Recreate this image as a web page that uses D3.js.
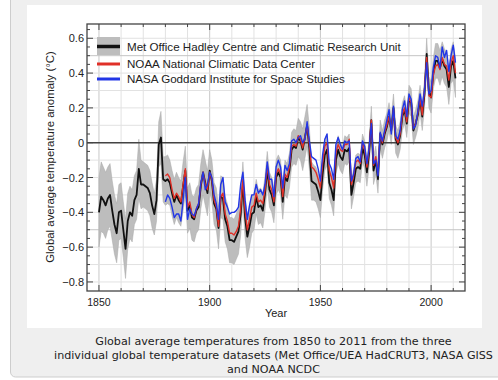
<!DOCTYPE html>
<meta charset="utf-8">
<style>
  body { margin: 0; background: #fff; }
  svg { display: block; }
</style>
<svg width="498" height="380"></svg>
<script src="https://d3js.org/d3.v7.min.js"></script>

<script>
  // HadCRUT3, 1850-2011 (degC, 1961-90 base)
  var hadcrutStart = 1850;
  var hadcrut = [
    -0.40, -0.31, -0.33, -0.36, -0.32, -0.30, -0.39, -0.47, -0.52, -0.40,
    -0.39, -0.50, -0.61, -0.45, -0.40, -0.42, -0.33, -0.30, -0.15, -0.24,
    -0.24, -0.25, -0.26, -0.29, -0.36, -0.41, -0.33, -0.01, 0.03, -0.21,
    -0.22, -0.21, -0.23, -0.29, -0.34, -0.30, -0.33, -0.35, -0.25, -0.16,
    -0.39, -0.36, -0.43, -0.44, -0.39, -0.37, -0.25, -0.17, -0.23, -0.29,
    -0.16, -0.22, -0.35, -0.38, -0.49, -0.31, -0.32, -0.44, -0.48, -0.56,
    -0.56, -0.57, -0.54, -0.51, -0.41, -0.23, -0.43, -0.54, -0.48, -0.41,
    -0.40, -0.31, -0.37, -0.36, -0.39, -0.29, -0.15, -0.27, -0.30, -0.36,
    -0.20, -0.17, -0.20, -0.34, -0.20, -0.22, -0.16, -0.04, -0.02, -0.03,
    0.03, 0.01, -0.04, 0.03, 0.10, -0.03, -0.22, -0.23, -0.24, -0.28,
    -0.33, -0.18, -0.07, -0.04, -0.23, -0.27, -0.33, -0.10, -0.04, -0.08,
    -0.10, -0.04, -0.05, -0.03, -0.30, -0.23, -0.15, -0.14, -0.15, -0.03,
    -0.07, -0.17, -0.06, 0.13, -0.16, -0.10, -0.21, 0.05, -0.01, 0.05,
    0.09, 0.15, 0.07, 0.20, 0.02, -0.01, 0.04, 0.15, 0.19, 0.11,
    0.25, 0.23, 0.07, 0.11, 0.16, 0.25, 0.15, 0.28, 0.51, 0.29,
    0.26, 0.40, 0.47, 0.47, 0.43, 0.48, 0.44, 0.42, 0.32, 0.44,
    0.47, 0.37
  ];
  // half width of the HadCRUT3 uncertainty band
  var hadcrutErr = [
    0.20, 0.20, 0.19, 0.19, 0.18, 0.18, 0.17, 0.17, 0.17, 0.16,
    0.16, 0.16, 0.17, 0.16, 0.15, 0.15, 0.14, 0.14, 0.17, 0.14,
    0.13, 0.13, 0.13, 0.13, 0.13, 0.12, 0.12, 0.13, 0.15, 0.13,
    0.14, 0.14, 0.13, 0.13, 0.13, 0.13, 0.13, 0.13, 0.14, 0.14,
    0.13, 0.13, 0.13, 0.13, 0.13, 0.13, 0.13, 0.13, 0.13, 0.13,
    0.12, 0.12, 0.12, 0.12, 0.12, 0.12, 0.12, 0.13, 0.13, 0.13,
    0.13, 0.13, 0.13, 0.13, 0.12, 0.12, 0.12, 0.12, 0.12, 0.11,
    0.10, 0.10, 0.10, 0.10, 0.10, 0.10, 0.10, 0.10, 0.10, 0.10,
    0.10, 0.10, 0.10, 0.10, 0.10, 0.10, 0.10, 0.10, 0.10, 0.10,
    0.11, 0.11, 0.12, 0.12, 0.12, 0.12, 0.11, 0.10, 0.10, 0.10,
    0.10, 0.09, 0.09, 0.09, 0.09, 0.09, 0.09, 0.08, 0.08, 0.08,
    0.08, 0.08, 0.08, 0.08, 0.08, 0.08, 0.08, 0.08, 0.08, 0.08,
    0.08, 0.08, 0.08, 0.08, 0.08, 0.08, 0.08, 0.08, 0.08, 0.08,
    0.08, 0.08, 0.08, 0.08, 0.08, 0.08, 0.08, 0.08, 0.08, 0.08,
    0.08, 0.08, 0.08, 0.08, 0.08, 0.08, 0.08, 0.08, 0.09, 0.09,
    0.09, 0.09, 0.10, 0.10, 0.10, 0.10, 0.10, 0.10, 0.10, 0.10,
    0.11, 0.11
  ];

  // NOAA NCDC and NASA GISS, 1880-2011
  var otherStart = 1880;
  var noaa = [
    -0.19, -0.18, -0.20, -0.27, -0.32, -0.29, -0.31, -0.34, -0.24, -0.15,
    -0.37, -0.34, -0.41, -0.43, -0.38, -0.35, -0.24, -0.17, -0.24, -0.27,
    -0.17, -0.21, -0.33, -0.37, -0.48, -0.31, -0.29, -0.41, -0.45, -0.52,
    -0.52, -0.53, -0.51, -0.48, -0.38, -0.21, -0.39, -0.50, -0.44, -0.37,
    -0.36, -0.29, -0.34, -0.33, -0.35, -0.27, -0.13, -0.24, -0.27, -0.34,
    -0.18, -0.15, -0.18, -0.31, -0.18, -0.20, -0.14, -0.02, -0.01, -0.02,
    0.04, 0.02, -0.03, 0.03, 0.10, -0.01, -0.14, -0.15, -0.17, -0.21,
    -0.26, -0.12, -0.02, 0.00, -0.16, -0.20, -0.26, -0.06, -0.01, -0.04,
    -0.05, -0.01, -0.01, 0.02, -0.24, -0.19, -0.11, -0.10, -0.12, 0.00,
    -0.04, -0.14, -0.04, 0.13, -0.13, -0.08, -0.18, 0.05, 0.00, 0.06,
    0.10, 0.15, 0.07, 0.19, 0.03, 0.00, 0.05, 0.16, 0.20, 0.12,
    0.26, 0.23, 0.08, 0.11, 0.17, 0.26, 0.16, 0.30, 0.49, 0.27,
    0.26, 0.39, 0.44, 0.45, 0.42, 0.49, 0.45, 0.44, 0.36, 0.46,
    0.50, 0.40
  ];
  var nasa = [
    -0.34, -0.30, -0.32, -0.37, -0.43, -0.41, -0.41, -0.45, -0.33, -0.20,
    -0.44, -0.38, -0.41, -0.42, -0.38, -0.35, -0.23, -0.17, -0.27, -0.24,
    -0.17, -0.20, -0.30, -0.35, -0.44, -0.24, -0.20, -0.34, -0.37, -0.41,
    -0.40, -0.40, -0.39, -0.37, -0.24, -0.17, -0.33, -0.44, -0.36, -0.30,
    -0.30, -0.24, -0.29, -0.27, -0.30, -0.24, -0.11, -0.21, -0.21, -0.31,
    -0.14, -0.10, -0.14, -0.26, -0.13, -0.16, -0.12, 0.01, 0.02, 0.00,
    0.03, 0.04, 0.00, 0.02, 0.12, 0.01, -0.08, -0.09, -0.10, -0.15,
    -0.22, -0.07, 0.02, 0.05, -0.12, -0.15, -0.21, -0.01, 0.03, -0.01,
    -0.04, 0.01, 0.00, 0.01, -0.22, -0.18, -0.09, -0.08, -0.11, 0.01,
    -0.02, -0.12, -0.03, 0.11, -0.12, -0.10, -0.19, 0.06, 0.01, 0.07,
    0.13, 0.19, 0.05, 0.21, 0.04, 0.02, 0.07, 0.19, 0.24, 0.15,
    0.28, 0.25, 0.08, 0.10, 0.18, 0.28, 0.21, 0.30, 0.46, 0.28,
    0.30, 0.43, 0.50, 0.49, 0.43, 0.55, 0.49, 0.53, 0.41, 0.50,
    0.56, 0.46
  ];

  var yTicks = [0.6, 0.4, 0.2, 0, -0.2, -0.4, -0.6, -0.8];
  var xTicks = [1850, 1900, 1950, 2000];
  var legendNames = [
    "Met Office Hadley Centre and Climatic Research Unit",
    "NOAA National Climatic Data Center",
    "NASA Goddard Institute for Space Studies"
  ];
  var captionLines = [
    "Global average temperatures from 1850 to 2011 from the three",
    "individual global temperature datasets (Met Office/UEA HadCRUT3, NASA GISS",
    "and NOAA NCDC"
  ];
</script>

<script>
  var svg = d3.select("svg");
  var font = "'Liberation Sans', Arial, sans-serif";

  // page frame
  svg.append("rect")
    .attr("x", 10.5).attr("y", -6).attr("width", 500).attr("height", 383)
    .attr("rx", 5)
    .attr("fill", "#efefef").attr("stroke", "#cdcdcd");
  svg.append("rect")
    .attr("x", 27).attr("y", 5).attr("width", 455).attr("height", 323)
    .attr("fill", "#fff");

  var pLeft = 87, pRight = 465, pTop = 24, pBottom = 291;
  var x = d3.scaleLinear().domain([1844.6, 2015.3]).range([pLeft, pRight]);
  var y = d3.scaleLinear().domain([-0.852, 0.682]).range([pBottom, pTop]);

  var hadRows = hadcrut.map(function (v, i) {
    return {year: hadcrutStart + i, v: v, e: hadcrutErr[i]};
  });
  var toRows = function (arr) {
    return arr.map(function (v, i) { return {year: otherStart + i, v: v}; });
  };

  // grid
  var g = svg.append("g");
  g.selectAll(".vg")
    .data(d3.range(1850, 2011, 10))
    .enter().append("line")
    .attr("x1", function (d) { return x(d); })
    .attr("x2", function (d) { return x(d); })
    .attr("y1", pTop).attr("y2", pBottom)
    .attr("stroke", function (d) { return d % 50 === 0 ? "#c8c8c8" : "#e2e2e2"; })
    .attr("stroke-width", 1);
  g.selectAll(".hg")
    .data(d3.range(-8, 7).map(function (d) { return d / 10; }))
    .enter().append("line")
    .attr("x1", pLeft).attr("x2", pRight)
    .attr("y1", function (d) { return y(d); })
    .attr("y2", function (d) { return y(d); })
    .attr("stroke", function (d) { return Math.abs(d) === 0.5 ? "#c4c4c4" : "#e2e2e2"; })
    .attr("stroke-width", 1);

  // uncertainty band
  var band = d3.area()
    .x(function (d) { return x(d.year); })
    .y0(function (d) { return y(d.v - d.e); })
    .y1(function (d) { return y(d.v + d.e); });
  svg.append("path")
    .datum(hadRows)
    .attr("d", band)
    .attr("fill", "#bdbdbd")
    .attr("stroke", "#a8a8a8")
    .attr("stroke-width", 0.5);

  // zero line
  svg.append("line")
    .attr("x1", pLeft).attr("x2", pRight)
    .attr("y1", y(0)).attr("y2", y(0))
    .attr("stroke", "#444").attr("stroke-width", 1.5);

  var line = d3.line()
    .x(function (d) { return x(d.year); })
    .y(function (d) { return y(d.v); });

  svg.append("path").datum(hadRows).attr("d", line)
    .attr("fill", "none").attr("stroke", "#111").attr("stroke-width", 1.8)
    .attr("stroke-linejoin", "round");
  svg.append("path").datum(toRows(noaa)).attr("d", line)
    .attr("fill", "none").attr("stroke", "#e03028").attr("stroke-width", 1.4)
    .attr("stroke-linejoin", "round");
  svg.append("path").datum(toRows(nasa)).attr("d", line)
    .attr("fill", "none").attr("stroke", "#2236e6").attr("stroke-width", 1.4)
    .attr("stroke-linejoin", "round");

  // frame and inward ticks
  var ax = svg.append("g").attr("stroke", "#444").attr("stroke-width", 1);
  d3.range(-16, 14).forEach(function (k) {
    var v = k * 0.05;
    var len = (k % 4 === 0) ? 6 : 3;
    ax.append("line").attr("x1", pLeft).attr("x2", pLeft + len)
      .attr("y1", y(v)).attr("y2", y(v));
    ax.append("line").attr("x1", pRight).attr("x2", pRight - len)
      .attr("y1", y(v)).attr("y2", y(v));
  });
  d3.range(1850, 2011, 10).forEach(function (d) {
    var len = (d % 50 === 0) ? 6 : 3;
    ax.append("line").attr("x1", x(d)).attr("x2", x(d))
      .attr("y1", pBottom).attr("y2", pBottom - len);
    ax.append("line").attr("x1", x(d)).attr("x2", x(d))
      .attr("y1", pTop).attr("y2", pTop + len);
  });
  svg.append("rect")
    .attr("x", pLeft).attr("y", pTop)
    .attr("width", pRight - pLeft).attr("height", pBottom - pTop)
    .attr("fill", "none").attr("stroke", "#444").attr("stroke-width", 1.3);

  // tick labels
  svg.selectAll(".yl").data(yTicks).enter().append("text")
    .attr("x", 84).attr("y", function (d) { return y(d) + 4; })
    .attr("text-anchor", "end")
    .style("font", "11px " + font).attr("fill", "#222")
    .text(function (d) { return d === 0 ? "0" : d3.format(".1f")(d); });
  svg.selectAll(".xl").data(xTicks).enter().append("text")
    .attr("x", function (d) { return x(d); }).attr("y", 306)
    .attr("text-anchor", "middle")
    .style("font", "10.5px " + font).attr("fill", "#222")
    .text(function (d) { return d; });

  svg.append("text")
    .attr("x", 276).attr("y", 317)
    .attr("text-anchor", "middle")
    .style("font", "11px " + font).attr("fill", "#222")
    .text("Year");
  svg.append("text")
    .attr("transform", "translate(54,157) rotate(-90)")
    .attr("text-anchor", "middle")
    .style("font", "11.4px " + font).attr("fill", "#222")
    .text("Global average temperature anomaly (\u00b0C)");

  // legend
  svg.append("rect").attr("x", 97).attr("y", 37).attr("width", 23).attr("height", 18)
    .attr("fill", "#bdbdbd");
  var legColors = ["#111", "#e03028", "#2236e6"];
  var legY = [46.5, 64, 79];
  legendNames.forEach(function (name, i) {
    svg.append("line").attr("x1", 97).attr("x2", 120)
      .attr("y1", legY[i]).attr("y2", legY[i])
      .attr("stroke", legColors[i]).attr("stroke-width", i === 0 ? 3.5 : 3);
    svg.append("text").attr("x", 127).attr("y", legY[i] + 4)
      .style("font", "11.6px " + font).attr("fill", "#222")
      .text(name);
  });

  // caption
  svg.selectAll(".cap").data(captionLines).enter().append("text")
    .attr("x", 273.5).attr("y", function (d, i) { return 345 + i * 14; })
    .attr("text-anchor", "middle")
    .style("font", "11.15px 'DejaVu Sans', sans-serif").attr("fill", "#222")
    .text(function (d) { return d; });
</script>
